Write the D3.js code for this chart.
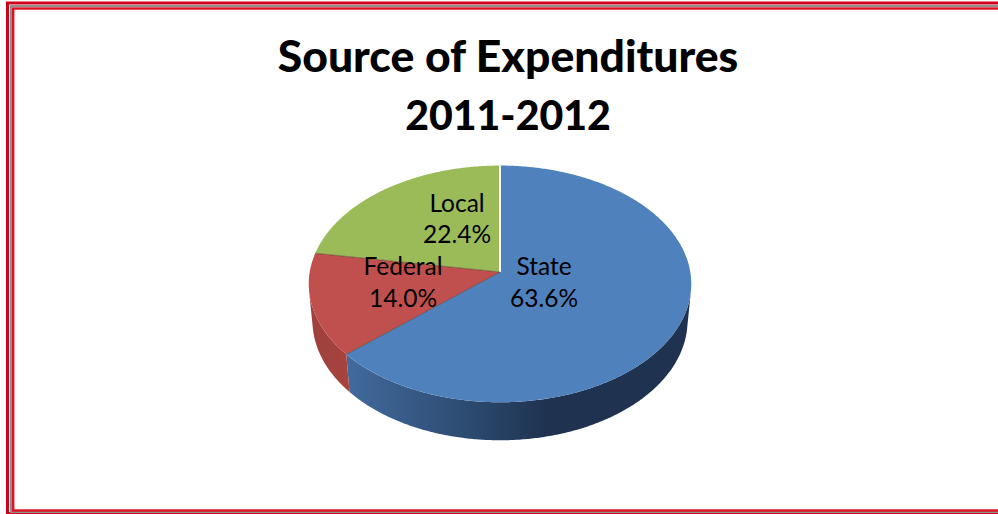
<!DOCTYPE html>
<html>
<head>
<meta charset="utf-8">
<script src="https://cdnjs.cloudflare.com/ajax/libs/d3/7.8.5/d3.min.js"></script>
<style>
  html, body { margin: 0; padding: 0; background: #ffffff; }
  svg { display: block; }
</style>
</head>
<body>
<svg id="chart" width="998" height="514"></svg>
<script>
// Source of expenditures, 2011-2012 (percent of total)
const categories = ["State", "Federal", "Local"];
const shares = [63.6, 14.0, 22.4];
const titleLines = ["Source of Expenditures", "2011-2012"];

// Palette for the top faces and the rim
const topColors = { State: "#4f81bd", Federal: "#c0504d", Local: "#9bbb59" };
const sideStops = {
  State:   [[345, "#426b9e"], [470, "#2c4a70"], [545, "#1f3351"], [700, "#1f3350"]],
  Federal: [[305, "#9c403d"], [350, "#a8433f"]],
  Local:   [[300, "#7a9446"], [700, "#7a9446"]]
};

// Where each slice's label block is centred, and its line baselines
const labelLayout = {
  State:   { x: 544, y: [275, 307] },
  Federal: { x: 403, y: [275, 307] },
  Local:   { x: 457, y: [212, 243] }
};

const svg = d3.select("#chart");
const defs = svg.append("defs");

// ---- frame: double red rule with a grey line between ----
svg.append("rect").attr("x", 7.5).attr("y", 3).attr("width", 1000).attr("height", 510.5)
  .attr("fill", "none").attr("stroke", "#d0021b").attr("stroke-width", 3);
svg.append("rect").attr("x", 11).attr("y", 6).attr("width", 1000).attr("height", 506)
  .attr("fill", "none").attr("stroke", "#8f8f8f").attr("stroke-width", 2);
svg.append("rect").attr("x", 13.2).attr("y", 8.5).attr("width", 1000).attr("height", 502)
  .attr("fill", "none").attr("stroke", "#e01020").attr("stroke-width", 2.4);

// ---- title ----
const title = svg.append("text")
  .attr("text-anchor", "middle")
  .attr("font-family", "Lato, 'Open Sans', sans-serif")
  .attr("font-weight", 900)
  .attr("fill", "#000");
title.selectAll("tspan").data(titleLines).join("tspan")
  .attr("x", 508)
  .attr("y", (d, i) => [72, 130][i])
  .attr("font-size", (d, i) => [44.5, 41][i])
  .text(d => d);

// ---- 3D pie with perspective ----
const cx = 500, cy = 272;          // screen position of the pie centre
const phi = 38 * Math.PI / 180;    // camera elevation
const D = 7.83, F = 1490;          // camera distance and focal length (unit radius)
const H = 0.25;                    // thickness of the disc

function project(a, r, y) {
  const X = r * Math.sin(a), Z = -r * Math.cos(a), Y = y;
  const yc = Z * Math.sin(phi) - Y * Math.cos(phi);
  const depth = D - (Z * Math.cos(phi) + Y * Math.sin(phi));
  return [cx + F * X / depth, cy + F * yc / depth];
}

const pie = d3.pie().sort(null).value(d => d.value);
const arcs = pie(categories.map((c, i) => ({ name: c, value: shares[i] })));

// visible range of the rim: where the sight line grazes the cylinder
const zt = 1 / (D * Math.cos(phi));
const aLeftVis = Math.PI * 2 - Math.acos(-zt);
const aRightVis = Math.acos(-zt);

function rimPoints(a0, a1, y) {
  const n = Math.max(2, Math.ceil(Math.abs(a1 - a0) / (Math.PI / 360)));
  return d3.range(n + 1).map(i => project(a0 + (a1 - a0) * i / n, 1, y));
}

// gradients for the side walls
categories.forEach(c => {
  const g = defs.append("linearGradient").attr("id", "side-" + c)
    .attr("gradientUnits", "userSpaceOnUse")
    .attr("x1", sideStops[c][0][0]).attr("x2", sideStops[c][sideStops[c].length - 1][0])
    .attr("y1", 0).attr("y2", 0);
  const x0 = sideStops[c][0][0], x1 = sideStops[c][sideStops[c].length - 1][0];
  sideStops[c].forEach(([x, col]) => {
    g.append("stop").attr("offset", (x - x0) / (x1 - x0)).attr("stop-color", col);
  });
});

// side walls
const sides = svg.append("g");
arcs.forEach(d => {
  const a0 = Math.max(d.startAngle, aRightVis);
  const a1 = Math.min(d.endAngle, aLeftVis);
  if (a1 <= a0) return;
  const top = rimPoints(a0, a1, 0);
  const bottom = rimPoints(a1, a0, -H);
  const p = d3.path();
  top.concat(bottom).forEach((pt, i) => i ? p.lineTo(pt[0], pt[1]) : p.moveTo(pt[0], pt[1]));
  p.closePath();
  sides.append("path").attr("d", p.toString())
    .attr("fill", `url(#side-${d.data.name})`);
});

// top faces
const faces = svg.append("g");
arcs.forEach(d => {
  const pts = rimPoints(d.startAngle, d.endAngle, 0);
  const c = project(0, 0, 0);
  const p = d3.path();
  p.moveTo(c[0], c[1]);
  pts.forEach(pt => p.lineTo(pt[0], pt[1]));
  p.closePath();
  faces.append("path").attr("d", p.toString())
    .attr("fill", topColors[d.data.name]);
});

// slice boundaries on the top face
const centre = project(0, 0, 0);
arcs.forEach((d, i) => {
  const e = project(d.startAngle, 1, 0);
  faces.append("line")
    .attr("x1", centre[0]).attr("y1", centre[1])
    .attr("x2", e[0]).attr("y2", e[1])
    .attr("stroke", i === 0 ? "#ffffff" : "rgba(60,30,20,0.45)")
    .attr("stroke-width", i === 0 ? 2 : 1);
});

// data labels
const labels = svg.append("g")
  .attr("font-family", "Lato, 'Open Sans', sans-serif")
  .attr("font-size", 24.5)
  .attr("fill", "#000")
  .attr("text-anchor", "middle");
arcs.forEach(d => {
  const L = labelLayout[d.data.name];
  const t = labels.append("text");
  t.append("tspan").attr("x", L.x).attr("y", L.y[0]).text(d.data.name);
  t.append("tspan").attr("x", L.x).attr("y", L.y[1]).text(d.data.value.toFixed(1) + "%");
});
</script>
</body>
</html>
